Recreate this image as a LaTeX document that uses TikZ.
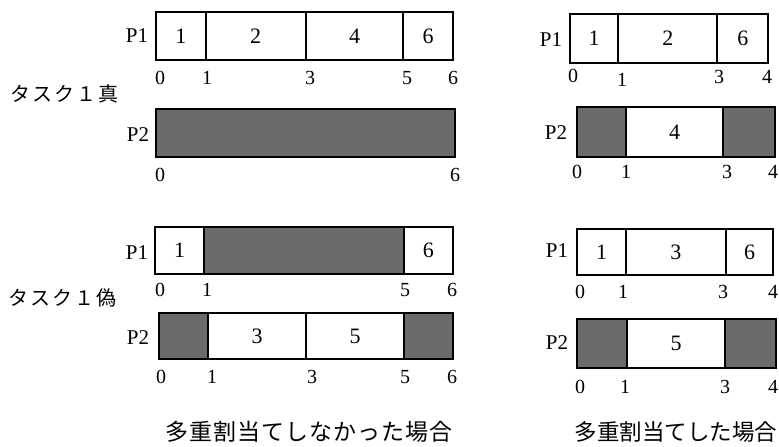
\documentclass[tikz,border=0pt]{standalone}
\usepackage{fontspec}
\setmainfont{Liberation Serif}
\newfontfamily\jpcap[LetterSpace=4]{Noto Sans CJK JP}
\newfontfamily\jpplain{Noto Sans CJK JP}
\newfontfamily\jpsp[LetterSpace=10]{Noto Sans CJK JP}
\usetikzlibrary{fit}
\tikzset{
  cell/.style={draw, line width=2pt, inner sep=0pt, fill=white},
  busy/.style={cell, fill=black!58},
  celltext/.style={font=\fontsize{22}{22}\selectfont, inner sep=0pt},
  plab/.style={font=\fontsize{21}{21}\selectfont, inner sep=0pt},
  ticklab/.style={font=\fontsize{20}{20}\selectfont, inner sep=0pt},
  tasklab/.style={font=\jpsp\fontsize{20}{20}\selectfont, inner sep=0pt},
  captext/.style={font=\jpcap\fontsize{23}{23}\selectfont, inner sep=0pt},
  captextr/.style={font=\jpplain\fontsize{22.5}{22.5}\selectfont, inner sep=0pt},
}
\begin{document}
\begin{tikzpicture}[x=1pt,y=-1pt]
\useasboundingbox (0,0) rectangle (779,447);
% ---------- left, task 1 true ----------
\node[cell, fit={(156,12) (205.7,60)}, label={[celltext]center:1}] (a1) {};
\node[cell, fit={(205.7,12) (305.7,60)}, label={[celltext]center:2}] (a2) {};
\node[cell, fit={(305.7,12) (403.3,60)}, label={[celltext]center:4}] (a4) {};
\node[cell, fit={(403.3,12) (452.7,60)}, label={[celltext]center:6}] (a6) {};
\node[plab] (ap1) at (137,36) {P1};
\node[ticklab] (at0) at (160,78) {0};
\node[ticklab] (at1) at (207,78) {1};
\node[ticklab] (at3) at (310,78) {3};
\node[ticklab] (at5) at (407,78) {5};
\node[ticklab] (at6) at (453,78) {6};
\node[tasklab] (ttrue) at (64,94) {タスク１真};
\node[busy, fit={(156,109) (455,157)}] (ab) {};
\node[plab] (ap2) at (138,135) {P2};
\node[ticklab] (au0) at (160,175) {0};
\node[ticklab] (au6) at (455,175) {6};
% ---------- left, task 1 false ----------
\node[cell, fit={(155,227) (204,274)}, label={[celltext]center:1}] (b1) {};
\node[busy, fit={(204,227) (404,274)}] (bb) {};
\node[cell, fit={(404,227) (452.7,274)}, label={[celltext]center:6}] (b6) {};
\node[plab] (bp1) at (137,253) {P1};
\node[ticklab] (bt0) at (160,290) {0};
\node[ticklab] (bt1) at (207,290) {1};
\node[ticklab] (bt5) at (405,290) {5};
\node[ticklab] (bt6) at (452,290) {6};
\node[tasklab] (tfalse) at (63,297.5) {タスク１偽};
\node[busy, fit={(159,313) (208.3,359)}] (cb1) {};
\node[cell, fit={(208.3,313) (306,359)}, label={[celltext]center:3}] (c3) {};
\node[cell, fit={(306,313) (404.3,359)}, label={[celltext]center:5}] (c5) {};
\node[busy, fit={(404.3,313) (452.7,359)}] (cb2) {};
\node[plab] (cp2) at (138,338) {P2};
\node[ticklab] (ct0) at (161,377) {0};
\node[ticklab] (ct1) at (212,377) {1};
\node[ticklab] (ct3) at (312,377) {3};
\node[ticklab] (ct5) at (405,377) {5};
\node[ticklab] (ct6) at (452,377) {6};
\node[captext] (capl) at (309,432) {多重割当てしなかった場合};
% ---------- right, task 1 true ----------
\node[cell, fit={(570,14) (618.3,63)}, label={[celltext]center:1}] (d1) {};
\node[cell, fit={(618.3,14) (717.3,63)}, label={[celltext]center:2}] (d2) {};
\node[cell, fit={(717.3,14) (768.3,63)}, label={[celltext]center:6}] (d6) {};
\node[plab] (dp1) at (551,40) {P1};
\node[ticklab] (dt0) at (573,76) {0};
\node[ticklab] (dt1) at (622,80) {1};
\node[ticklab] (dt3) at (719,77) {3};
\node[ticklab] (dt4) at (767,77) {4};
\node[busy, fit={(576.7,107) (625.7,157)}] (eb1) {};
\node[cell, fit={(625.7,107) (723.3,157)}, label={[celltext]center:4}] (e4) {};
\node[busy, fit={(723.3,107) (775,157)}] (eb2) {};
\node[plab] (ep2) at (556,133) {P2};
\node[ticklab] (et0) at (577,172) {0};
\node[ticklab] (et1) at (626,172) {1};
\node[ticklab] (et3) at (727,172) {3};
\node[ticklab] (et4) at (773,172) {4};
% ---------- right, task 1 false ----------
\node[cell, fit={(577.3,229) (626,275)}, label={[celltext]center:1}] (f1) {};
\node[cell, fit={(626,229) (725.7,275)}, label={[celltext]center:3}] (f3) {};
\node[cell, fit={(725.7,229) (773.3,275)}, label={[celltext]center:6}] (f6) {};
\node[plab] (fp1) at (557,251) {P1};
\node[ticklab] (ft0) at (580,292) {0};
\node[ticklab] (ft1) at (623,292) {1};
\node[ticklab] (ft3) at (723,292) {3};
\node[ticklab] (ft4) at (773,292) {4};
\node[busy, fit={(576.7,319) (627.3,368)}] (gb1) {};
\node[cell, fit={(627.3,319) (725,368)}, label={[celltext]center:5}] (g5) {};
\node[busy, fit={(725,319) (776,368)}] (gb2) {};
\node[plab] (gp2) at (557,343) {P2};
\node[ticklab] (gt0) at (580,387) {0};
\node[ticklab] (gt1) at (625,387) {1};
\node[ticklab] (gt3) at (725,387) {3};
\node[ticklab] (gt4) at (773,387) {4};
\node[captextr] (capr) at (676,432) {多重割当てした場合};
\end{tikzpicture}
\end{document}
